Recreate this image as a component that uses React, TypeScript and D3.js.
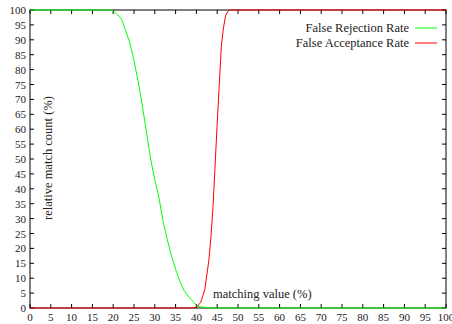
import React from "react";
import * as d3 from "d3";

const frrX = [0, 19, 20, 21, 22, 23, 24, 25, 26, 27, 28, 29, 30, 31, 32, 33, 34, 35, 36, 37, 38, 39, 40, 41, 42, 43, 45, 100];
const frrY = [100, 100, 99.7, 98.5, 97, 93, 89, 83, 76, 68, 59, 50, 43, 37, 29, 23, 17.5, 13, 9, 6, 4, 2.5, 0.9, 0.4, 0.2, 0.1, 0, 0];
const farX = [0, 39, 40, 41, 42, 43, 43.5, 44, 44.5, 45, 45.5, 46, 46.5, 47, 47.5, 48, 49, 100];
const farY = [0, 0, 0.3, 1.8, 6, 16, 24, 34, 48, 62, 75, 88, 94, 98, 99.5, 100, 100, 100];
const xTicks = d3.range(0, 101, 5);
const yTicks = d3.range(0, 101, 5);
const seriesNames = ["False Rejection Rate", "False Acceptance Rate"];
const seriesColors = ["#00ff00", "#ff0000"];

export default function App() {
  const W = 452, H = 324;
  const L = 30, R = 446, T = 10, B = 308;
  const x = d3.scaleLinear().domain([0, 100]).range([L, R]);
  const y = d3.scaleLinear().domain([0, 100]).range([B, T]);
  const line = d3.line<[number, number]>().x(d => x(d[0])).y(d => y(d[1]));
  const frr = frrX.map((v, i) => [v, frrY[i]] as [number, number]);
  const far = farX.map((v, i) => [v, farY[i]] as [number, number]);
  const font = "'Liberation Serif', 'DejaVu Serif', serif";
  const tl = 4;
  return (
    <svg width={W} height={H} style={{ position: "absolute", left: 0, top: 0, background: "#fff" }} fontFamily={font}>
      <rect x={0} y={0} width={W} height={H} fill="#fff" />
      {xTicks.map(t => (
        <g key={"x" + t}>
          <line x1={x(t)} x2={x(t)} y1={B} y2={B - tl} stroke="#000" />
          <line x1={x(t)} x2={x(t)} y1={T} y2={T + tl} stroke="#000" />
          <text x={x(t)} y={321} fontSize={11} textAnchor="middle" fill="#222">{t}</text>
        </g>
      ))}
      {yTicks.map(t => (
        <g key={"y" + t}>
          <line x1={L} x2={L + tl} y1={y(t)} y2={y(t)} stroke="#000" />
          <line x1={R} x2={R - tl} y1={y(t)} y2={y(t)} stroke="#000" />
          <text x={26} y={y(t) + 4} fontSize={11} textAnchor="end" fill="#222">{t}</text>
        </g>
      ))}
      <rect x={L} y={T} width={R - L} height={B - T} fill="none" stroke="#000" strokeWidth={1} />
      <path d={line(frr) || ""} fill="none" stroke={seriesColors[0]} strokeWidth={1} />
      <path d={line(far) || ""} fill="none" stroke={seriesColors[1]} strokeWidth={1} />
      <text transform="translate(52,158) rotate(-90)" fontSize={12.5} textAnchor="middle" fill="#222">relative match count (%)</text>
      <text x={213} y={298} fontSize={12.5} fill="#222">matching value (%)</text>
      {seriesNames.map((n, i) => (
        <g key={n}>
          <text x={409} y={32 + i * 15} fontSize={12.5} textAnchor="end" fill="#222">{n}</text>
          <line x1={415} x2={437} y1={28 + i * 15} y2={28 + i * 15} stroke={seriesColors[i]} strokeWidth={1} />
        </g>
      ))}
    </svg>
  );
}
